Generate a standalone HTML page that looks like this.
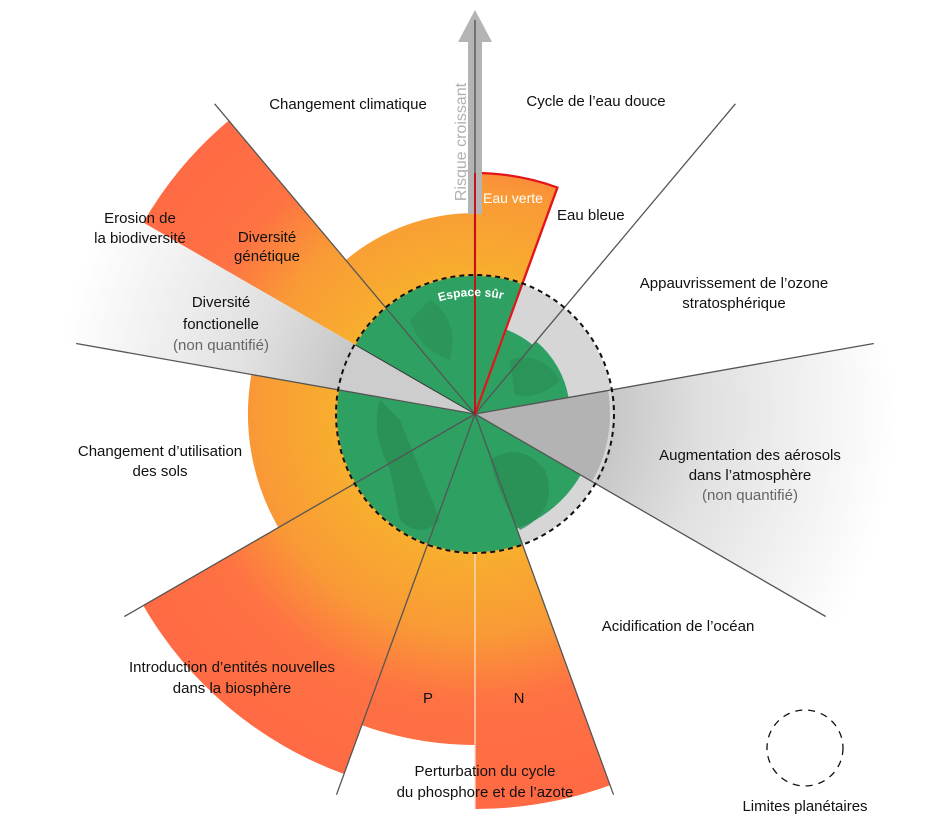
<!DOCTYPE html>
<html><head><meta charset="utf-8"><style>
html,body{margin:0;padding:0;background:#fff;}
svg{display:block;}
text{font-family:"Liberation Sans",Arial,sans-serif;font-size:15px;fill:#111;}
</style></head><body>
<svg width="950" height="821" viewBox="0 0 950 821" xmlns="http://www.w3.org/2000/svg">
<defs>
<radialGradient id="og" gradientUnits="userSpaceOnUse" cx="475" cy="414" r="400">
<stop offset="0.35" stop-color="#f8ae2e"/>
<stop offset="0.55" stop-color="#f99a36"/>
<stop offset="0.72" stop-color="#fe7243"/>
<stop offset="1" stop-color="#ff6945"/>
</radialGradient>
<radialGradient id="gg" gradientUnits="userSpaceOnUse" cx="475" cy="414" r="420">
<stop offset="0.3" stop-color="#c4c4c4"/>
<stop offset="0.55" stop-color="#e0e0e0"/>
<stop offset="1" stop-color="#ffffff"/>
</radialGradient>
<path id="arc" d="M425.1,307.1 A118,118 0 0 1 524.9,307.1"/>
</defs>

<path d="M475,414 L888.7,341 A420,420 0 0 1 838.7,624 Z" fill="url(#gg)"/>
<path d="M475,414 L61.3,341 A420,420 0 0 1 111.3,204 Z" fill="url(#gg)"/>

<path d="M475,414 L345.8,260 A201,201 0 0 1 475,213 Z" fill="url(#og)"/>
<path d="M475,414 L143.3,222.5 A383,383 0 0 1 228.7,120.6 Z" fill="url(#og)"/>
<path d="M475,414 L278.4,527.5 A227,227 0 0 1 251.4,374.5 Z" fill="url(#og)"/>
<path d="M475,414 L344,774 A383,383 0 0 1 143.3,605.5 Z" fill="url(#og)"/>
<path d="M475,414 L475,745 A331,331 0 0 1 361.8,725.1 Z" fill="url(#og)"/>
<path d="M475,414 L610.1,785.3 A395,395 0 0 1 475,809 Z" fill="url(#og)"/>
<path d="M475,414 L475,173 A241,241 0 0 1 557.4,187.5 Z" fill="url(#og)" stroke="#e4141b" stroke-width="2.2"/>

<circle cx="475" cy="414" r="138" fill="#2ea162"/>
<path d="M475,414 L522.2,284.3 A138,138 0 0 1 522.2,543.7 Z" fill="#d6d6d6"/>
<path d="M475,414 L505.8,329.4 A90,90 0 0 1 532.9,345.1 Z" fill="#2ea162"/>
<path d="M475,414 L536.1,341.2 A95,95 0 0 1 568.6,397.5 Z" fill="#2ea162"/>
<path d="M475,414 L580.7,475 A122,122 0 0 1 516.7,528.7 Z" fill="#2ea162"/>
<path d="M475,414 L608,390.6 A135,135 0 0 1 591.9,481.5 Z" fill="#b3b3b3"/>
<path d="M475,414 L339.1,390 A138,138 0 0 1 355.5,345 Z" fill="#cdcdcd"/>
<path d="M390,470 Q370,430 380,400 L400,420 Q420,470 440,520 Q420,540 400,520 Z" fill="#2a8e55" opacity="0.8"/>
<path d="M490,460 Q520,440 545,470 Q560,510 520,530 Q500,500 490,460 Z" fill="#2a8e55" opacity="0.8"/>
<path d="M430,300 Q460,320 450,360 Q420,350 410,320 Z" fill="#2a8e55" opacity="0.6"/>
<path d="M510,360 Q540,350 560,380 Q540,400 515,395 Z" fill="#2a8e55" opacity="0.7"/>

<g stroke="#555" stroke-width="1.3">
<line x1="475" y1="414" x2="735.4" y2="103.8"/>
<line x1="475" y1="414" x2="873.8" y2="343.5"/>
<line x1="475" y1="414" x2="825.7" y2="616.5"/>
<line x1="475" y1="414" x2="613.5" y2="794.7"/>
<line x1="475" y1="414" x2="336.5" y2="794.7"/>
<line x1="475" y1="414" x2="124.3" y2="616.5"/>
<line x1="475" y1="414" x2="76.2" y2="343.5"/>
<line x1="475" y1="414" x2="214.6" y2="103.8"/>
</g>
<line x1="475" y1="552" x2="475" y2="809" stroke="#f5e2d0" stroke-width="1.2"/>
<line x1="475" y1="414" x2="355.5" y2="345" stroke="#333" stroke-width="1"/>
<line x1="475" y1="414" x2="557.4" y2="187.5" stroke="#e4141b" stroke-width="2.2"/>

<rect x="468" y="38" width="14" height="176" fill="#b4b4b4"/>
<polygon points="458,42 475,10 492,42" fill="#b4b4b4"/>
<line x1="475" y1="20" x2="475" y2="414" stroke="#555" stroke-width="1.4"/>
<line x1="475" y1="173" x2="475" y2="414" stroke="#c0131a" stroke-width="2"/>
<text transform="translate(466,142) rotate(-90)" text-anchor="middle" style="fill:#b0b0b0;font-size:16px">Risque croissant</text>

<circle cx="475" cy="414" r="139" fill="none" stroke="#111" stroke-width="2" stroke-dasharray="5 4"/>
<text style="fill:#fff;font-size:12px;font-weight:bold"><textPath href="#arc" startOffset="46%" text-anchor="middle">Espace sûr</textPath></text>

<g text-anchor="middle">
<text x="348" y="109">Changement climatique</text>
<text x="596" y="106">Cycle de l’eau douce</text>
<text x="140" y="223">Erosion de</text>
<text x="140" y="243">la biodiversité</text>
<text x="267" y="242">Diversité</text>
<text x="267" y="261">génétique</text>
<text x="734" y="288">Appauvrissement de l’ozone</text>
<text x="734" y="308">stratosphérique</text>
<text x="221" y="307">Diversité</text>
<text x="221" y="329">fonctionelle</text>
<text x="221" y="350" style="fill:#666">(non quantifié)</text>
<text x="160" y="456">Changement d’utilisation</text>
<text x="160" y="476">des sols</text>
<text x="750" y="460">Augmentation des aérosols</text>
<text x="750" y="480">dans l’atmosphère</text>
<text x="750" y="500" style="fill:#666">(non quantifié)</text>
<text x="678" y="631">Acidification de l’océan</text>
<text x="232" y="672">Introduction d’entités nouvelles</text>
<text x="232" y="693">dans la biosphère</text>
<text x="428" y="703">P</text>
<text x="519" y="703">N</text>
<text x="485" y="776">Perturbation du cycle</text>
<text x="485" y="797">du phosphore et de l’azote</text>
<text x="805" y="811">Limites planétaires</text>
</g>
<text x="483" y="203" style="fill:#fff;font-size:14px">Eau verte</text>
<text x="557" y="220">Eau bleue</text>

<circle cx="805" cy="748" r="38" fill="none" stroke="#111" stroke-width="1.3" stroke-dasharray="7 6"/>
</svg>
</body></html>
